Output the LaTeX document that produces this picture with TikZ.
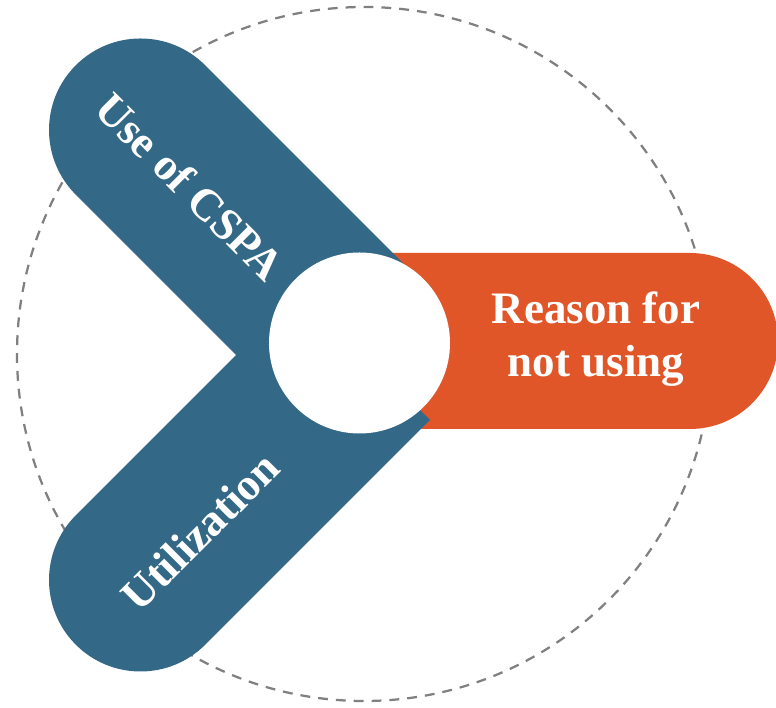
\documentclass[tikz,border=0pt]{standalone}
\usepackage{fontspec}
\setmainfont{Liberation Serif}
\definecolor{armblue}{HTML}{336887}
\definecolor{armorange}{HTML}{E05628}

\begin{document}
\begin{tikzpicture}[x=0.025cm, y=0.025cm,
        armtext/.style={text=white, font=\fontsize{32}{38}\selectfont\bfseries, inner sep=0pt, align=center}]
        \useasboundingbox (0, 0) rectangle (776, 708);
        \draw [gray, line width=1.6pt, dash pattern=on 7pt off 5.7pt] (364, 354) circle [radius=347];

        \fill [armorange] (360, 455) -- (690, 455) arc [start angle=90, end angle=-90, radius=88] -- (360, 279) -- cycle;

        \begin{scope}[shift={(140.5, 578)}, rotate=-45]
        \fill [armblue] (0, 91.5) -- (318, 91.5) -- (318, -91.5) -- (0, -91.5) arc [start angle=270, end angle=90, radius=91.5] -- cycle;
        \end{scope}

        \begin{scope}[shift={(140.5, 128)}, rotate=45]
        \fill [armblue] (0, 91.5) -- (318, 91.5) -- (318, -91.5) -- (0, -91.5) arc [start angle=270, end angle=90, radius=91.5] -- cycle;
        \end{scope}

        \fill [white] (359.5, 365) circle [radius=90.5];

        \node [armtext, rotate=-45] (use) at (190, 521.5) {Use of CSPA};
        \node [armtext, rotate=45] (util) at (200, 176.5) {Utilization};
        \node [armtext] (reason) at (596, 369) {Reason for\\not using};
    \end{tikzpicture}
\end{document}
